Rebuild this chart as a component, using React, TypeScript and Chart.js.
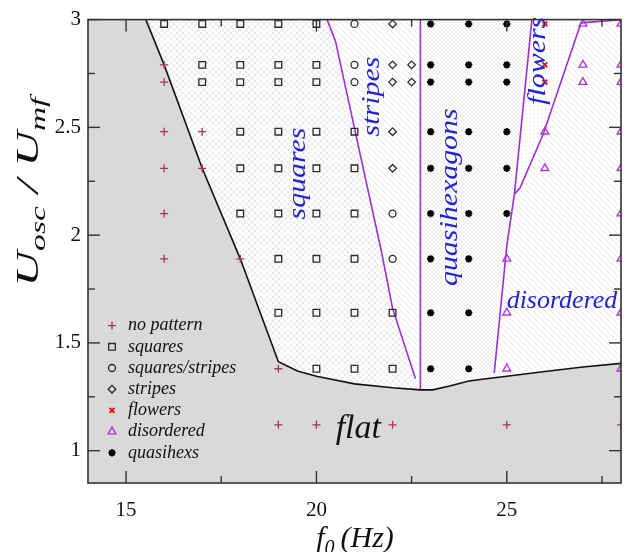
import React, { useEffect, useRef } from 'react';
import { Chart, registerables } from 'chart.js';
import { drawPoint } from 'chart.js/helpers';

Chart.register(...registerables);

const W = 627;
const H = 552;

// ---- axes ----
const xRange = [14, 28];
const yRange = [0.85, 3];
const xMajorTicks = [15, 20, 25];
const xMinorTicks = [17.5, 22.5, 27.5];
const yMajorTicks = [1, 1.5, 2, 2.5, 3];
const yMinorTicks = [1.25, 1.75, 2.25, 2.75];

// ---- measurements: [f0 (Hz), Uosc/Umf] ----
const noPattern: number[][] = [
  [16, 2.79], [16, 2.71], [16, 2.48], [17, 2.48], [16, 2.31], [17, 2.31], [16, 2.1],
  [16, 1.89], [18, 1.89], [19, 1.38], [19, 1.12], [20, 1.12], [22, 1.12],
  [25, 1.12], [28, 1.12],
];
const squares: number[][] = [
  [16, 2.98], [17, 2.98], [18, 2.98], [19, 2.98], [20, 2.98],
  [17, 2.79], [18, 2.79], [19, 2.79], [20, 2.79],
  [17, 2.71], [18, 2.71], [19, 2.71], [20, 2.71],
  [18, 2.48], [19, 2.48], [20, 2.48], [21, 2.48],
  [18, 2.31], [19, 2.31], [20, 2.31], [21, 2.31],
  [18, 2.1], [19, 2.1], [20, 2.1], [21, 2.1],
  [19, 1.89], [20, 1.89], [21, 1.89],
  [19, 1.64], [20, 1.64], [21, 1.64], [22, 1.64],
  [20, 1.38], [21, 1.38], [22, 1.38],
];
const squaresStripes: number[][] = [[21, 2.98], [21, 2.79], [21, 2.71], [22, 2.1], [22, 1.89]];
const stripes: number[][] = [
  [22, 2.98], [22, 2.79], [22.5, 2.79], [22, 2.71], [22.5, 2.71], [22, 2.48], [22, 2.31],
];
const flowers: number[][] = [[26, 2.98], [26, 2.79], [26, 2.71]];
const disordered: number[][] = [
  [27, 2.98], [28, 2.98], [27, 2.79], [28, 2.79], [27, 2.71], [28, 2.71],
  [26, 2.48], [28, 2.48], [26, 2.31], [28, 2.31], [28, 2.1],
  [25, 1.89], [28, 1.89], [25, 1.64], [28, 1.64], [25, 1.38], [28, 1.38],
];
const quasihexs: number[][] = [
  [23, 2.98], [24, 2.98], [25, 2.98], [23, 2.79], [24, 2.79], [25, 2.79],
  [23, 2.71], [24, 2.71], [25, 2.71], [23, 2.48], [24, 2.48], [25, 2.48],
  [23, 2.31], [24, 2.31], [25, 2.31], [23, 2.1], [24, 2.1], [25, 2.1],
  [23, 1.89], [24, 1.89], [23, 1.64], [24, 1.64], [23, 1.38], [24, 1.38],
];

// ---- region boundaries ----
const flatBoundary: number[][] = [
  [15.52, 3], [16, 2.79], [17, 2.31], [18, 1.89], [19, 1.413], [19.5, 1.37], [20, 1.345],
  [21, 1.31], [22, 1.292], [22.73, 1.282], [23.05, 1.282], [23.5, 1.3], [24, 1.323],
  [24.67, 1.338], [25, 1.345], [26, 1.367], [27, 1.388], [28, 1.405],
];
const squaresStripesLine: number[][] = [[20.28, 3], [20.5, 2.9], [21.7, 1.93], [22, 1.66], [22.6, 1.335]];
const stripesQuasiLine: number[][] = [[22.73, 3], [22.73, 1.282]];
const quasiDisorderedLine: number[][] = [[25.66, 3], [25.2, 2.19], [25.0, 1.95], [24.67, 1.36]];
const flowersLine: number[][] = [[28, 3], [26.95, 2.985], [25.96, 2.47], [25.35, 2.22], [25.2, 2.19]];

const legendLabels = ['no pattern', 'squares', 'squares/stripes', 'stripes', 'flowers', 'disordered', 'quasihexs'];

const xy = (pts: number[][]) => pts.map(([x, y]) => ({ x, y }));

// region polygons assembled from the boundary lines
const squaresStripesEnd = [22.68, 1.283];
const grayRegion = [[xRange[0], yRange[1]], ...flatBoundary, [xRange[1], yRange[0]], [xRange[0], yRange[0]]];
const squaresRegion = [
  ...squaresStripesLine, squaresStripesEnd,
  ...flatBoundary.filter((p) => p[0] < squaresStripesEnd[0]).reverse(),
];
const stripesRegion = [...stripesQuasiLine, squaresStripesEnd, ...[...squaresStripesLine].reverse()];
const quasiRegion = [
  stripesQuasiLine[0],
  ...quasiDisorderedLine,
  ...flatBoundary.filter((p) => p[0] >= 22.73 && p[0] <= 24.67).reverse(),
];
const flowersRegion = [quasiDisorderedLine[0], ...flowersLine.slice(1)];
const disorderedRegion = [
  ...flowersLine, ...quasiDisorderedLine.slice(2),
  ...flatBoundary.filter((p) => p[0] >= 24.67),
];

function makePattern(kind: string): CanvasPattern | string {
  const c = document.createElement('canvas');
  const s = kind === 'dots' || kind === 'fine' ? 4 : 6;
  c.width = s;
  c.height = s;
  const g = c.getContext('2d');
  if (!g) return '#fff';
  g.fillStyle = '#ffffff';
  g.fillRect(0, 0, s, s);
  g.strokeStyle = '#e8e8e8';
  g.fillStyle = '#e2e2e2';
  g.lineWidth = 1;
  const line = (x1: number, y1: number, x2: number, y2: number) => {
    g.beginPath();
    g.moveTo(x1, y1);
    g.lineTo(x2, y2);
    g.stroke();
  };
  if (kind === 'cross') {
    line(0, 0, s, s);
    line(s, 0, 0, s);
  } else if (kind === 'back') {
    line(-1, -1, s + 1, s + 1);
    line(-1, s - 1, 1, s + 1);
    line(s - 1, -1, s + 1, 1);
  } else if (kind === 'fine') {
    g.strokeStyle = '#f0f0f0';
    line(0, 0, s, s);
    line(s, 0, 0, s);
  } else {
    g.fillRect(1, 1, 1.2, 1.2);
  }
  return g.createPattern(c, 'repeat') || '#fff';
}

const SERIF = '"Liberation Serif", "Times New Roman", serif';

type Piece = { text: string; size: number; dy?: number; gap?: number };

function drawRich(ctx: CanvasRenderingContext2D, pieces: Piece[], cx: number, cy: number, rot: number, stretch: number, color: string) {
  ctx.save();
  ctx.translate(cx, cy);
  ctx.rotate(rot);
  ctx.scale(stretch, 1);
  ctx.fillStyle = color;
  ctx.textAlign = 'left';
  ctx.textBaseline = 'alphabetic';
  let total = 0;
  const widths: number[] = [];
  for (const p of pieces) {
    ctx.font = `italic ${p.size}px ${SERIF}`;
    const w = ctx.measureText(p.text).width;
    widths.push(w);
    total += w + (p.gap || 0);
  }
  let x = -total / 2;
  pieces.forEach((p, i) => {
    ctx.font = `italic ${p.size}px ${SERIF}`;
    ctx.fillText(p.text, x, p.dy || 0);
    x += widths[i] + (p.gap || 0);
  });
  ctx.restore();
}

const framePlugin = {
  id: 'frameTicks',
  afterDatasetsDraw(chart: any) {
    const { ctx, chartArea: a, scales } = chart;
    const sx = scales.x;
    const sy = scales.y;
    ctx.save();
    ctx.strokeStyle = '#333';
    ctx.lineWidth = 1.4;
    const seg = (x1: number, y1: number, x2: number, y2: number) => {
      ctx.beginPath();
      ctx.moveTo(x1, y1);
      ctx.lineTo(x2, y2);
      ctx.stroke();
    };
    const xt = (vals: number[], len: number) => vals.forEach((v) => {
      const p = sx.getPixelForValue(v);
      seg(p, a.bottom, p, a.bottom - len);
      seg(p, a.top, p, a.top + len);
    });
    const yt = (vals: number[], len: number) => vals.forEach((v) => {
      const p = sy.getPixelForValue(v);
      seg(a.left, p, a.left + len, p);
      seg(a.right, p, a.right - len, p);
    });
    xt(xMajorTicks, 12);
    xt(xMinorTicks, 7);
    yt(yMajorTicks, 12);
    yt(yMinorTicks, 7);
    ctx.lineWidth = 1.6;
    ctx.strokeRect(a.left, a.top, a.right - a.left, a.bottom - a.top);
    ctx.restore();
  },
};

const labelPlugin = {
  id: 'regionLabels',
  afterDatasetsDraw(chart: any) {
    const { ctx, scales } = chart;
    const sx = scales.x;
    const sy = scales.y;
    const blue = '#2323d2';
    const rotated: [string, number, number][] = [
      ['squares', 19.52, 2.286],
      ['stripes', 21.47, 2.643],
      ['quasihexagons', 23.51, 2.176],
      ['flowers', 25.82, 2.809],
    ];
    ctx.save();
    ctx.fillStyle = blue;
    ctx.textAlign = 'center';
    ctx.textBaseline = 'middle';
    for (const [t, x, y] of rotated) {
      ctx.save();
      ctx.translate(sx.getPixelForValue(x), sy.getPixelForValue(y));
      ctx.rotate(-Math.PI / 2);
      ctx.scale(1.15, 1);
      ctx.font = `italic 26px ${SERIF}`;
      ctx.fillText(t, 0, 0);
      ctx.restore();
    }
    ctx.font = `italic 26px ${SERIF}`;
    ctx.fillText('disordered', sx.getPixelForValue(26.45), sy.getPixelForValue(1.694));
    ctx.fillStyle = '#111';
    ctx.font = `italic 34px ${SERIF}`;
    ctx.fillText('flat', sx.getPixelForValue(21.1), sy.getPixelForValue(1.098));
    ctx.restore();

    // legend inside the plot
    const a = chart.chartArea;
    const metas = chart.data.datasets.filter((d: any) => d.isMarker);
    ctx.save();
    metas.forEach((d: any, i: number) => {
      const yy = a.top + 306 + i * 21.2;
      const xx = a.left + 24;
      ctx.strokeStyle = d.borderColor;
      ctx.fillStyle = d.backgroundColor;
      ctx.lineWidth = d.borderWidth;
      drawPoint(ctx, { pointStyle: d.pointStyle, radius: d.pointRadius, rotation: 0, borderWidth: d.borderWidth } as any, xx, yy);
      ctx.fillStyle = '#111';
      ctx.font = `italic 18px ${SERIF}`;
      ctx.textAlign = 'left';
      ctx.textBaseline = 'middle';
      ctx.fillText(d.label, a.left + 40, yy);
    });
    ctx.restore();

    // axis titles
    drawRich(ctx, [
      { text: 'U', size: 31 },
      { text: 'osc', size: 21, dy: 7, gap: 8 },
      { text: '/', size: 31, gap: 8 },
      { text: 'U', size: 31 },
      { text: 'mf', size: 21, dy: 7 },
    ], 38, 192, -Math.PI / 2, 1.6, '#111');
    drawRich(ctx, [
      { text: 'f', size: 30 },
      { text: '0', size: 20, dy: 7, gap: 6 },
      { text: '(Hz)', size: 30 },
    ], 355, 547, 0, 1, '#111');
  },
};

export default function App() {
  const ref = useRef<HTMLCanvasElement | null>(null);
  useEffect(() => {
    const canvas = ref.current;
    if (!canvas) return;
    const pat = {
      cross: makePattern('cross'),
      back: makePattern('back'),
      fine: makePattern('fine'),
      dots: makePattern('dots'),
    };
    const region = (pts: number[][], bg: any) => ({
      type: 'line' as const,
      data: xy(pts),
      fill: 'shape',
      backgroundColor: bg,
      borderColor: 'rgba(0,0,0,0)',
      borderWidth: 0,
      pointRadius: 0,
      order: 10,
    });
    const boundary = (pts: number[][], color: string) => ({
      type: 'line' as const,
      data: xy(pts),
      fill: false,
      borderColor: color,
      borderWidth: 1.6,
      pointRadius: 0,
      order: 5,
    });
    const purple = '#9b30d9';
    const marker = (label: string, pts: number[][], style: string, radius: number, color: string, bw: number) => ({
      type: 'scatter' as const,
      label,
      isMarker: true,
      data: xy(pts),
      pointStyle: style,
      pointRadius: radius,
      borderColor: color,
      backgroundColor: style === 'star' ? color : 'rgba(0,0,0,0)',
      borderWidth: bw,
      pointBorderWidth: bw,
      clip: 0,
      order: 0,
    });
    const chart = new Chart(canvas, {
      type: 'scatter',
      data: {
        datasets: [
          region(grayRegion, '#d9d9d9'),
          region(squaresRegion, pat.cross),
          region(stripesRegion, pat.back),
          region(quasiRegion, pat.fine),
          region(flowersRegion, pat.dots),
          region(disorderedRegion, pat.back),
          boundary(flatBoundary, '#111'),
          boundary(squaresStripesLine, purple),
          boundary(stripesQuasiLine, purple),
          boundary(quasiDisorderedLine, purple),
          boundary(flowersLine, purple),
          marker(legendLabels[0], noPattern, 'cross', 4, '#a8354f', 1.3),
          marker(legendLabels[1], squares, 'rect', 4.7, '#2a2a2a', 1.3),
          marker(legendLabels[2], squaresStripes, 'circle', 3.5, '#2a2a2a', 1.3),
          marker(legendLabels[3], stripes, 'rectRot', 3.8, '#2a2a2a', 1.3),
          marker(legendLabels[4], flowers, 'crossRot', 3.5, '#ee1111', 2),
          marker(legendLabels[5], disordered, 'triangle', 4.5, '#b03ad8', 1.4),
          marker(legendLabels[6], quasihexs, 'star', 3.6, '#000000', 2),
        ] as any,
      },
      options: {
        animation: false,
        responsive: false,
        maintainAspectRatio: false,
        events: [],
        layout: { padding: { top: 17, right: 6, left: 0, bottom: 0 } },
        font: { family: SERIF },
        plugins: { legend: { display: false }, tooltip: { enabled: false } },
        scales: {
          x: {
            type: 'linear',
            min: xRange[0],
            max: xRange[1],
            grid: { display: false, drawTicks: false },
            border: { display: false },
            ticks: { color: '#111', padding: 15, font: { family: SERIF, size: 21 }, callback: (v: any) => String(v) },
            afterBuildTicks: (s: any) => { s.ticks = xMajorTicks.map((v) => ({ value: v })); },
            afterFit: (s: any) => { s.height = 69; },
          },
          y: {
            type: 'linear',
            min: yRange[0],
            max: yRange[1],
            grid: { display: false, drawTicks: false },
            border: { display: false },
            ticks: { color: '#111', padding: 7, font: { family: SERIF, size: 21 }, callback: (v: any) => String(v) },
            afterBuildTicks: (s: any) => { s.ticks = yMajorTicks.map((v) => ({ value: v })); },
            afterFit: (s: any) => { s.width = 88; },
          },
        },
      } as any,
      plugins: [framePlugin, labelPlugin],
    });
    return () => chart.destroy();
  }, []);
  return (
    <div style={{ position: 'absolute', left: 0, top: 0, width: W, height: H }}>
      <canvas ref={ref} width={W} height={H} style={{ display: 'block', width: W, height: H }} />
    </div>
  );
}
